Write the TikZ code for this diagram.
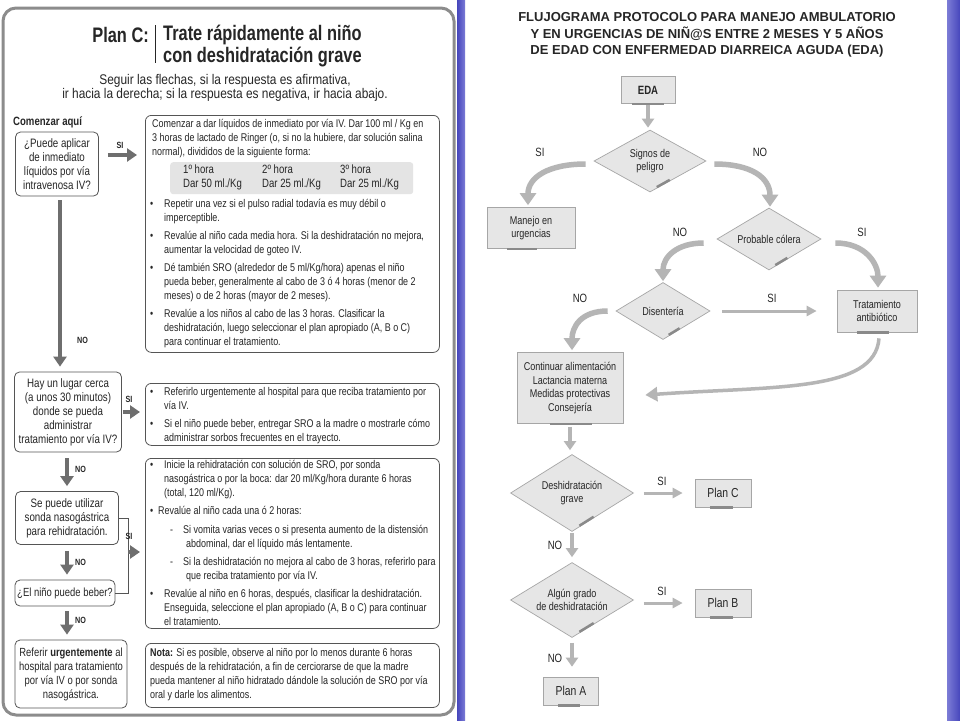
\documentclass[tikz,border=0pt]{standalone}
\usepackage{fontspec}
\setmainfont{Liberation Sans}
\newfontfamily\cnd[FakeStretch=0.8]{Liberation Sans}
\newfontfamily\cndt[FakeStretch=0.78]{Liberation Sans}
\newfontfamily\cnds[FakeStretch=0.85]{Liberation Sans}
\usetikzlibrary{shapes.geometric,arrows.meta,calc}
\definecolor{framegray}{HTML}{8C8C8C}
\definecolor{boxline}{HTML}{555555}
\definecolor{larr}{HTML}{6E6E6E}
\definecolor{tabfill}{HTML}{E4E4E4}
\definecolor{rfill}{HTML}{E6E6E6}
\definecolor{rline}{HTML}{A6A6A6}
\definecolor{rbarc}{HTML}{8A8A8A}
\definecolor{rarr}{HTML}{B5B5B5}
\definecolor{stripe}{HTML}{4646BC}
\definecolor{stripelight}{HTML}{7C7CD6}
\definecolor{txt}{HTML}{262626}
\newcommand\bul{\makebox[14pt][l]{\textbullet}}
\newcommand\ind{\hspace*{14pt}}
\begin{document}
\begin{tikzpicture}[x=1pt,y=-1pt,
  lbox/.style={draw=boxline, line width=0.8pt, rounded corners=5pt, align=center, inner sep=0pt, font=\cnd\fontsize{12.2}{14}\selectfont, text=txt},
  bigbox/.style={draw=boxline, line width=0.8pt, rounded corners=6pt, inner sep=0pt, anchor=north west},
  btext/.style={anchor=north west, align=left, inner sep=0pt, font=\cnd\fontsize{11.2}{14}\selectfont, text=txt},
  larrow/.style={draw=larr, line width=3.8pt, -{Triangle[width=13pt,length=10pt]}},
  lab/.style={font=\cnd\bfseries\fontsize{9}{10}\selectfont, inner sep=0pt, text=txt},
  rnode/.style={draw=rline, fill=rfill, line width=0.7pt, align=center, inner sep=0pt, font=\cnd\fontsize{11.3}{13.5}\selectfont, text=txt},
  rdia/.style={diamond, aspect=1.6, draw=rline, fill=rfill, line width=0.7pt, align=center, inner sep=0pt, font=\cnd\fontsize{11.3}{13.5}\selectfont, text=txt},
  rbar/.style={draw=rbarc, line width=2.5pt},
  rcurve/.style={draw=rarr, line width=5.5pt, -{Triangle[width=16pt,length=12pt]}},
  rstraight/.style={draw=rarr, line width=3pt, -{Triangle[width=10pt,length=10pt]}},
  rdown/.style={draw=rarr, line width=4pt, -{Triangle[width=12pt,length=9pt]}},
  rlab/.style={font=\cnd\fontsize{12}{13}\selectfont, inner sep=0pt, text=txt},
]
\useasboundingbox (0,0) rectangle (960,720);
\fill[white] (0,0) rectangle (960,720);
% blue stripes
\shade[left color=stripe, right color=stripelight] (457,0) rectangle (465,720);
\shade[left color=stripelight, right color=stripe] (947,0) rectangle (960,720);
% left frame
\draw[framegray, line width=3pt, rounded corners=13pt] (3,8) rectangle (454,715);

% ---------- LEFT PANEL ----------
\node[font=\cndt\bfseries\fontsize{21}{22}\selectfont, anchor=east, inner sep=0pt, text=txt] (plan) at (149,35) {Plan C:};
\draw[txt, line width=0.8pt] (155,25) -- (155,63);
\node[font=\cndt\bfseries\fontsize{21}{22}\selectfont, anchor=west, align=left, inner sep=0pt, text=txt] (ttl) at (163,46) {Trate rápidamente al niño\\con deshidratación grave};
\node[font=\cnds\fontsize{14}{14.5}\selectfont, align=center, inner sep=0pt, text=txt] (sub) at (225,88) {Seguir las flechas, si la respuesta es afirmativa,\\ir hacia la derecha; si la respuesta es negativa, ir hacia abajo.};
\node[font=\cnd\bfseries\fontsize{12}{14}\selectfont, anchor=west, inner sep=0pt, text=txt] (start) at (13,122) {Comenzar aquí};

\node[lbox, minimum width=83, minimum height=64] (q1) at (57,164) {¿Puede aplicar\\de inmediato\\líquidos por vía\\intravenosa IV?};
\node[lbox, minimum width=107, minimum height=80] (q2) at (68,412) {Hay un lugar cerca\\(a unos 30 minutos)\\donde se pueda\\administrar\\tratamiento por vía IV?};
\node[lbox, minimum width=103, minimum height=53] (q3) at (67,518) {Se puede utilizar\\sonda nasogástrica\\para rehidratación.};
\node[lbox, minimum width=100, minimum height=26, font=\cnd\fontsize{11.8}{14}\selectfont] (q4) at (65,593) {¿El niño puede beber?};
\node[lbox, minimum width=112, minimum height=68, font=\cnd\fontsize{11.8}{14}\selectfont] (q5) at (71,674) {Referir \textbf{urgentemente} al\\hospital para tratamiento\\por vía IV o por sonda\\nasogástrica.};

\node[bigbox, minimum width=294, minimum height=237] (ba) at (145,115) {};
\node[bigbox, minimum width=294, minimum height=62] (bb) at (145,383) {};
\node[bigbox, minimum width=294, minimum height=170] (bc) at (145,458) {};
\node[bigbox, minimum width=294, minimum height=64] (bd) at (145,643) {};

\node[btext] (ta) at (152,119) {Comenzar a dar líquidos de inmediato por vía IV. Dar 100 ml / Kg en\\3 horas de lactado de Ringer (o, si no la hubiere, dar solución salina\\normal), divididos de la siguiente forma:};
\node[fill=tabfill, rounded corners=3pt, minimum width=243, minimum height=32, anchor=north west, inner sep=0pt] (tab) at (170,162) {};
\node[btext, font=\cnd\fontsize{12}{14}\selectfont] (c1) at (183,165) {1º hora\\Dar 50 ml./Kg};
\node[btext, font=\cnd\fontsize{12}{14}\selectfont] (c2) at (262,165) {2º hora\\Dar 25 ml./Kg};
\node[btext, font=\cnd\fontsize{12}{14}\selectfont] (c3) at (340,165) {3º hora\\Dar 25 ml./Kg};
\node[btext] (la) at (150,199) {\bul Repetir una vez si el pulso radial todavía es muy débil o\\
\ind imperceptible.\\[4pt]
\bul Revalúe al niño cada media hora. Si la deshidratación no mejora,\\
\ind aumentar la velocidad de goteo IV.\\[4pt]
\bul Dé también SRO (alrededor de 5 ml/Kg/hora) apenas el niño\\
\ind pueda beber, generalmente al cabo de 3 ó 4 horas (menor de 2\\
\ind meses) o de 2 horas (mayor de 2 meses).\\[4pt]
\bul Revalúe a los niños al cabo de las 3 horas. Clasificar la\\
\ind deshidratación, luego seleccionar el plan apropiado (A, B o C)\\
\ind para continuar el tratamiento.};

\node[btext] (lb) at (150,387) {\bul Referirlo urgentemente al hospital para que reciba tratamiento por\\
\ind vía IV.\\[4pt]
\bul Si el niño puede beber, entregar SRO a la madre o mostrarle cómo\\
\ind administrar sorbos frecuentes en el trayecto.};

\node[btext] (lc) at (150,460) {\bul Inicie la rehidratación con solución de SRO, por sonda\\
\ind nasogástrica o por la boca: dar 20 ml/Kg/hora durante 6 horas\\
\ind (total, 120 ml/Kg).\\[4pt]
\makebox[8pt][l]{\textbullet}Revalúe al niño cada una ó 2 horas:\\[5pt]
\hspace*{20pt}\makebox[13pt][l]{-}Si vomita varias veces o si presenta aumento de la distensión\\
\hspace*{36pt}abdominal, dar el líquido más lentamente.\\[4pt]
\hspace*{20pt}\makebox[13pt][l]{-}Si la deshidratación no mejora al cabo de 3 horas, referirlo para\\
\hspace*{36pt}que reciba tratamiento por vía IV.\\[4pt]
\bul Revalúe al niño en 6 horas, después, clasificar la deshidratación.\\
\ind Enseguida, seleccione el plan apropiado (A, B o C) para continuar\\
\ind el tratamiento.};

\node[btext] (ld) at (150,648) {\textbf{Nota:} Si es posible, observe al niño por lo menos durante 6 horas\\
después de la rehidratación, a fin de cerciorarse de que la madre\\
pueda mantener al niño hidratado dándole la solución de SRO por vía\\
oral y darle los alimentos.};

% left arrows
\draw[larrow] ($(q1.south)+(3,4)$) -- ($(q2.north -| q1.south)+(3,-5)$);
\node[lab, anchor=west] (no1) at (77,340) {NO};
\draw[larrow] ($(q1.east)+(9,-9)$) -- ($(q1.east -| ba.west)+(-8,-9)$);
\node[lab] (si1) at (120,145) {SI};
\draw[larrow] ($(q2.east)+(1,0)$) -- ($(q2.east -| bb.west)+(-5,0)$);
\node[lab] (si2) at (129,399) {SI};
\draw[larrow] ($(q2.south)+(-1,6)$) -- ($(q3.north)+(0,-5)$);
\node[lab, anchor=west] (no2) at (75,469) {NO};
\draw[larrow] ($(q3.south)+(0,6)$) -- ($(q4.north -| q3.south)+(0,-5)$);
\node[lab, anchor=west] (no3) at (75,562) {NO};
\draw[larrow] ($(q4.south -| q3.south)+(0,5)$) -- ($(q5.north -| q3.south)+(0,-5)$);
\node[lab, anchor=west] (no4) at (75,620) {NO};
\draw[boxline, line width=0.8pt] (q3.east) -- ++(9,0) |- (q4.east);
\draw[larrow] ($(q3.east)+(9,34)$) -- ($(q3.east -| bc.west)+(-5,34)$);
\node[lab] (si3) at (129,536) {SI};

% ---------- RIGHT PANEL ----------
\node[font=\bfseries\fontsize{13}{16.5}\selectfont, align=center, inner sep=0pt, text=txt] (rt) at (707,35) {FLUJOGRAMA PROTOCOLO PARA MANEJO AMBULATORIO\\Y EN URGENCIAS DE NIÑ@S ENTRE 2 MESES Y 5 AÑOS\\DE EDAD CON ENFERMEDAD DIARREICA AGUDA (EDA)};

\node[rnode, minimum width=54, minimum height=27, font=\cnd\bfseries\fontsize{12}{14}\selectfont] (eda) at (648,90) {EDA};
\node[rdia, minimum width=112, minimum height=62] (d1) at (650,161) {Signos de\\peligro};
\node[rnode, minimum width=88, minimum height=41] (man) at (531,228) {Manejo en\\urgencias};
\node[rdia, minimum width=104, minimum height=62] (d2) at (769,239) {Probable cólera};
\node[rdia, minimum width=94, minimum height=57] (d3) at (663,311) {Disentería};
\node[rnode, minimum width=80, minimum height=42] (trat) at (877,311) {Tratamiento\\antibiótico};
\node[rnode, minimum width=106, minimum height=71] (cont) at (570,388) {Continuar alimentación\\Lactancia materna\\Medidas protectivas\\Consejería};
\node[rdia, minimum width=123, minimum height=77] (d4) at (572,493) {Deshidratación\\grave};
\node[rnode, minimum width=56, minimum height=28, font=\cnd\fontsize{13}{14}\selectfont] (planc) at (723,493) {Plan C};
\node[rdia, minimum width=123, minimum height=75] (d5) at (572,600) {Algún grado\\de deshidratación};
\node[rnode, minimum width=56, minimum height=28, font=\cnd\fontsize{13}{14}\selectfont] (planb) at (723,603) {Plan B};
\node[rnode, minimum width=55, minimum height=28, font=\cnd\fontsize{13}{14}\selectfont] (plana) at (571,691) {Plan A};

% bars
\foreach \n/\a/\b in {eda/0.2/0.8, man/0.23/0.57, trat/0.25/0.65, cont/0.31/0.71, planc/0.27/0.67, planb/0.27/0.67, plana/0.27/0.67}{
  \draw[rbar] ($(\n.south west)!\a!(\n.south east)$) -- ($(\n.south west)!\b!(\n.south east)$);
}
\foreach \n in {d1,d2,d3,d4,d5}{
  \draw[rbar] ($(\n.south)!0.12!(\n.east)+(0,-1.5)$) -- ($(\n.south)!0.35!(\n.east)+(0,-1.5)$);
}

% right arrows
\draw[rdown, shorten <=1pt, shorten >=2pt] (eda.south) -- (eda.south |- d1.north);
\draw[rcurve] ($(d1.west)+(-8,3)$) .. controls ($(d1.west)+(-45,3)$) and ($(man.north)+(-3,-30)$) .. ($(man.north)+(-3,-2)$);
\draw[rcurve] ($(d1.east)+(8,3)$) .. controls ($(d1.east)+(45,3)$) and ($(d2.north)+(1,-30)$) .. ($(d2.north)+(1,-1)$);
\draw[rcurve] ($(d2.west)+(-13,4)$) .. controls ($(d2.west)+(-40,4)$) and ($(d3.north)+(0,-25)$) .. ($(d3.north)+(0,-1)$);
\draw[rcurve] ($(d2.east)+(14,4)$) .. controls ($(d2.east)+(45,4)$) and ($(trat.north)+(1,-25)$) .. ($(trat.north)+(1,-2)$);
\draw[rstraight] ($(d3.east)+(12,0)$) -- ($(trat.west)+(-20,0)$);
\draw[rcurve] ($(d3.west)+(-8,0)$) .. controls ($(d3.west)+(-35,0)$) and ($(cont.north)+(2,-25)$) .. ($(cont.north)+(2,-2)$);
\draw[draw=rarr, line width=3.5pt, -{Triangle[width=14pt,length=12pt]}] ($(trat.south)+(2,6)$) .. controls ($(trat.south)+(-2,60)$) and ($(cont.east)+(150,-2)$) .. ($(cont.east)+(22,7)$);
\draw[rdown, shorten <=3pt, shorten >=4pt] (cont.south) -- (cont.south |- d4.north);
\draw[rstraight] ($(d4.east)+(10,0)$) -- ($(planc.west)+(-12,0)$);
\draw[rdown, shorten <=1pt, shorten >=5pt] (d4.south) -- (d5.north);
\draw[rstraight] ($(d5.east)+(10,3)$) -- ($(planb.west)+(-12,0)$);
\draw[rdown, shorten <=5pt, shorten >=10pt] (d5.south) -- (d5.south |- plana.north);

% right labels
\node[rlab] (l1) at (540,152) {SI};
\node[rlab] (l2) at (760,152) {NO};
\node[rlab] (l3) at (680,232) {NO};
\node[rlab] (l4) at (862,232) {SI};
\node[rlab] (l5) at (580,298) {NO};
\node[rlab] (l6) at (772,298) {SI};
\node[rlab] (l7) at (662,481) {SI};
\node[rlab] (l8) at (555,545) {NO};
\node[rlab] (l9) at (662,591) {SI};
\node[rlab] (l10) at (555,658) {NO};
\end{tikzpicture}
\end{document}
